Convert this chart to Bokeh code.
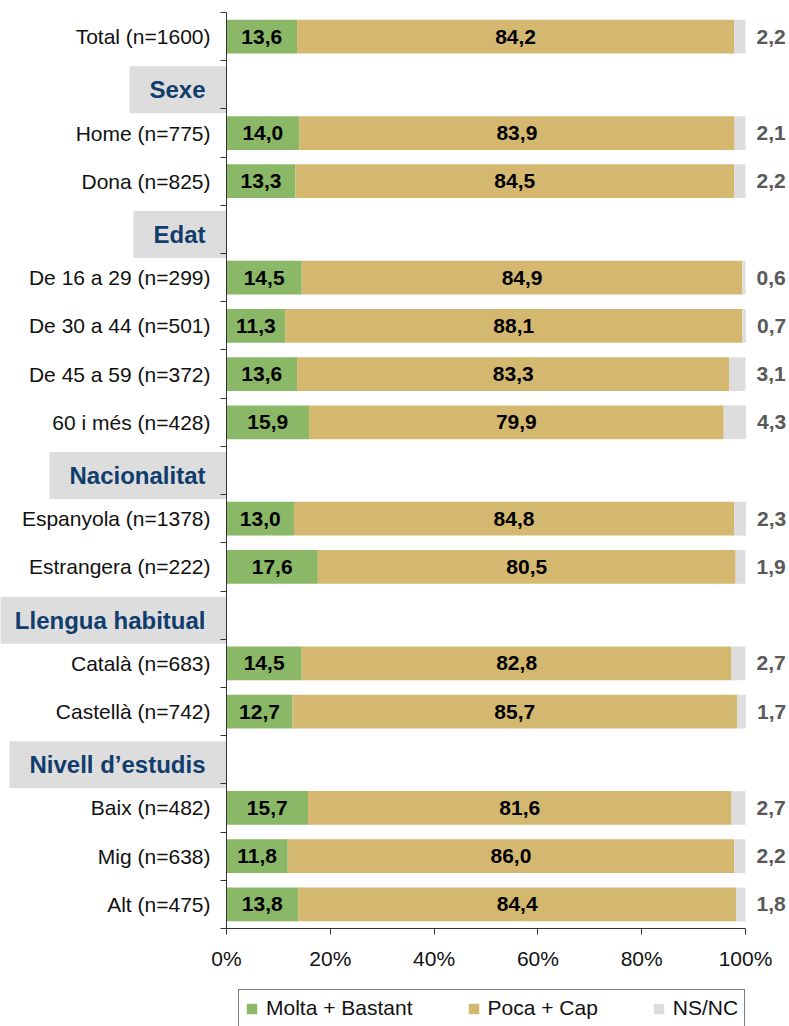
from bokeh.plotting import figure
from bokeh.models import (ColumnDataSource, Range1d, LinearAxis, FixedTicker,
                          Label, Legend, LegendItem)
from bokeh.core.properties import value
from bokeh.embed import file_html
from bokeh.resources import INLINE

# ---------------- data ----------------
rows = ["Total (n=1600)", "Sexe", "Home (n=775)", "Dona (n=825)", "Edat",
        "De 16 a 29 (n=299)", "De 30 a 44 (n=501)", "De 45 a 59 (n=372)", "60 i més (n=428)",
        "Nacionalitat", "Espanyola (n=1378)", "Estrangera (n=222)",
        "Llengua habitual", "Català (n=683)", "Castellà (n=742)",
        "Nivell d’estudis", "Baix (n=482)", "Mig (n=638)", "Alt (n=475)"]
headers = ["Sexe", "Edat", "Nacionalitat", "Llengua habitual", "Nivell d’estudis"]
molta = [13.6, 14.0, 13.3, 14.5, 11.3, 13.6, 15.9, 13.0, 17.6, 14.5, 12.7, 15.7, 11.8, 13.8]
poca = [84.2, 83.9, 84.5, 84.9, 88.1, 83.3, 79.9, 84.8, 80.5, 82.8, 85.7, 81.6, 86.0, 84.4]
nsnc = [2.2, 2.1, 2.2, 0.6, 0.7, 3.1, 4.3, 2.3, 1.9, 2.7, 1.7, 2.7, 2.2, 1.8]
series = ["Molta + Bastant", "Poca + Cap", "NS/NC"]
x_ticks = [0, 20, 40, 60, 80, 100]

colors = ["#8BB867", "#D4B870", "#DDDDDD"]
FONT = "Liberation Sans"

data_rows = [r for r in rows if r not in headers]
ys = [rows.index(r) + 0.5 for r in data_rows]
n_rows = len(rows)

def fmt(v):
    return f"{v:.1f}".replace(".", ",")

m_end = list(molta)
p_end = [a + b for a, b in zip(molta, poca)]
n_end = [a + b for a, b in zip(p_end, nsnc)]

src = ColumnDataSource(dict(
    y=ys, m_end=m_end, p_end=p_end, n_end=n_end,
    m_mid=[v / 2 for v in molta],
    p_mid=[a + b / 2 for a, b in zip(molta, poca)],
    m_lbl=[fmt(v) for v in molta],
    p_lbl=[fmt(v) for v in poca],
    n_lbl=[fmt(v) for v in nsnc],
))

# ---------------- figure ----------------
W, H = 789, 1026
px_per_unit = 5.19
left_px = 226
right_px = W - (left_px + 100 * px_per_unit)
top_px = 12
row_px = 916 / n_rows
bottom_px = H - top_px - 916
p = figure(width=W, height=H,
           x_range=Range1d(-left_px / px_per_unit, 100 + right_px / px_per_unit),
           y_range=Range1d(n_rows + bottom_px / row_px, -top_px / row_px),
           x_axis_location=None, y_axis_location=None,
           output_backend="svg", toolbar_location=None, min_border=0)
p.outline_line_color = None
p.xgrid.grid_line_color = None
p.ygrid.grid_line_color = None
p.background_fill_color = "white"

bh = 0.7
r1 = p.hbar(y="y", left=0, right="m_end", height=bh, source=src,
            fill_color=colors[0], line_color=None)
r2 = p.hbar(y="y", left="m_end", right="p_end", height=bh, source=src,
            fill_color=colors[1], line_color=None)
r3 = p.hbar(y="y", left="p_end", right="n_end", height=bh, source=src,
            fill_color=colors[2], line_color=None)

common = dict(source=src, text_baseline="middle", text_font=value(FONT),
              text_font_size="21px", text_font_style="bold")
p.text(x="m_mid", y="y", text="m_lbl", text_align="center", text_color="black", **common)
p.text(x="p_mid", y="y", text="p_lbl", text_align="center", text_color="black", **common)
p.text(x="n_end", y="y", text="n_lbl", text_align="left", x_offset=11,
       text_color="#595959", **common)

# x axis
xa = LinearAxis(fixed_location=n_rows, bounds=(0, 100),
                ticker=FixedTicker(ticks=x_ticks, minor_ticks=[]),
                major_label_overrides={t: f"{t}%" for t in x_ticks},
                major_tick_out=6, major_tick_in=0,
                minor_tick_out=0, minor_tick_in=0,
                axis_line_color="#333333", major_tick_line_color="#333333",
                major_label_text_font=FONT, major_label_text_font_size="21px",
                major_label_text_color="#111111", major_label_standoff=12)
p.add_layout(xa, "below")

# y axis line with ticks at row boundaries
bounds_ticks = list(range(n_rows + 1))
ya = LinearAxis(fixed_location=0, bounds=(0, n_rows),
                ticker=FixedTicker(ticks=bounds_ticks, minor_ticks=[]),
                major_label_overrides={t: "" for t in bounds_ticks},
                major_tick_out=6, major_tick_in=0,
                minor_tick_out=0, minor_tick_in=0,
                axis_line_color="#333333", major_tick_line_color="#333333")
p.add_layout(ya, "left")

# y labels for data rows
yl = LinearAxis(fixed_location=0,
                ticker=FixedTicker(ticks=ys, minor_ticks=[]),
                major_label_overrides={y: r for y, r in zip(ys, data_rows)},
                major_tick_out=0, major_tick_in=0,
                minor_tick_out=0, minor_tick_in=0,
                axis_line_color=None,
                major_label_text_font=FONT, major_label_text_font_size="21px",
                major_label_text_color="#111111", major_label_standoff=16)
p.add_layout(yl, "left")

# group headers
for h in headers:
    p.add_layout(Label(x=0, y=rows.index(h) + 0.5, x_offset=0, y_offset=-5,
                       text=h, text_align="right", text_baseline="middle",
                       text_font=FONT, text_font_size="24px", text_font_style="bold",
                       text_color="#103C6E", background_fill_color="#DDDDDD",
                       padding=dict(left=20, right=21, top=10, bottom=10),
                       level="underlay"))

legend = Legend(items=[LegendItem(label=s, renderers=[r]) for s, r in zip(series, [r1, r2, r3])],
                orientation="horizontal", location=(238, -1),
                glyph_width=13, glyph_height=13, label_standoff=8, spacing=54,
                padding=6, margin=0, border_line_color="black", border_line_width=1,
                label_text_font=FONT, label_text_font_size="21px",
                label_text_color="#111111", background_fill_alpha=1)
p.add_layout(legend, "center")

open("out.html", "w").write(file_html(p, INLINE))
